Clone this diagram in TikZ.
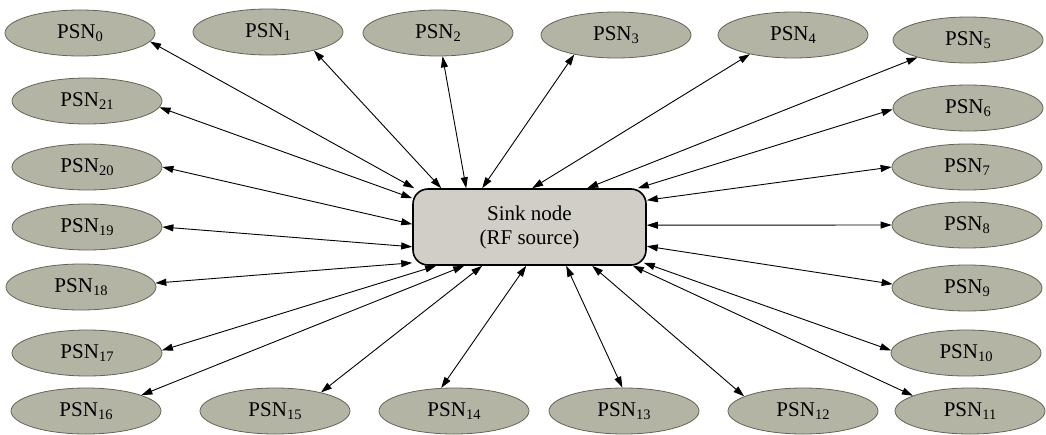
\documentclass[tikz,border=0pt]{standalone}
\usepackage{fontspec}
\setmainfont{Liberation Serif}
\usetikzlibrary{arrows.meta,calc,shapes.geometric}
\definecolor{psnfill}{RGB}{180,180,164}
\definecolor{psnline}{RGB}{100,100,85}
\definecolor{sinkfill}{RGB}{208,206,199}
\newcommand{\psnsub}[1]{\raisebox{-0.3ex}{\fontsize{14.5}{16}\selectfont #1}}
\begin{document}
\begin{tikzpicture}[x=1pt,y=-1pt,
  psn/.style={ellipse,draw=psnline,fill=psnfill,line width=0.8pt,minimum width=150pt,minimum height=46pt,inner sep=0pt,font=\fontsize{21}{25}\selectfont},
  sinkbox/.style={rectangle,rounded corners=15pt,draw=black,line width=1.6pt,fill=sinkfill,minimum width=233pt,minimum height=76pt,align=center,font=\fontsize{21}{24}\selectfont},
  link/.style={{Triangle[length=11pt,width=7pt]}-{Triangle[length=11pt,width=7pt]},line width=0.9pt}]
\useasboundingbox (0,0) rectangle (1046,434);

\node[sinkbox] (sink) at (529.5,227) {Sink node\\(RF source)};

\node[psn] (p0)  at (80,33)  {PSN\psnsub{0}};
\node[psn] (p1)  at (268,32) {PSN\psnsub{1}};
\node[psn] (p2)  at (438,33) {PSN\psnsub{2}};
\node[psn] (p3)  at (616,35) {PSN\psnsub{3}};
\node[psn] (p4)  at (793,35) {PSN\psnsub{4}};
\node[psn] (p5)  at (968,40) {PSN\psnsub{5}};
\node[psn] (p6)  at (968,108) {PSN\psnsub{6}};
\node[psn] (p7)  at (967,167) {PSN\psnsub{7}};
\node[psn] (p8)  at (967,225) {PSN\psnsub{8}};
\node[psn] (p9)  at (967,288) {PSN\psnsub{9}};
\node[psn] (p10) at (966,353) {PSN\psnsub{10}};
\node[psn] (p11) at (970,411) {PSN\psnsub{11}};
\node[psn] (p12) at (803,411) {PSN\psnsub{12}};
\node[psn] (p13) at (624,411) {PSN\psnsub{13}};
\node[psn] (p14) at (454,411) {PSN\psnsub{14}};
\node[psn] (p15) at (275,411) {PSN\psnsub{15}};
\node[psn] (p16) at (86,411)  {PSN\psnsub{16}};
\node[psn] (p17) at (87,353)  {PSN\psnsub{17}};
\node[psn] (p18) at (81,287)  {PSN\psnsub{18}};
\node[psn] (p19) at (87,227)  {PSN\psnsub{19}};
\node[psn] (p20) at (87,167)  {PSN\psnsub{20}};
\node[psn] (p21) at (87,101)  {PSN\psnsub{21}};

\draw[link] (p0.-7.9)   -- ($(sink.north west)+(2,0)$);
\draw[link] (p1.-22)    -- ($(sink.north west)+(29,0)$);
\draw[link] (p2.-79.5)  -- ($(sink.north west)+(54,0)$);
\draw[link] (p3.-155.9) -- ($(sink.north west)+(70,0)$);
\draw[link] (p4.-156.3) -- ($(sink.north west)+(120,0)$);
\draw[link] (p5.-161.9) -- ($(sink.north west)+(175,0)$);
\draw[link] (p6.-179.2) -- ($(sink.north east)+(-9,0)$);
\draw[link] (p7.180)    -- ($(sink.north east)+(0,12)$);
\draw[link] (p8.180)    -- ($(sink.north east)+(0,37)$);
\draw[link] (p9.177.7)  -- ($(sink.north east)+(0,58)$);
\draw[link] (p10.178.5) -- ($(sink.south east)+(-3,-3)$);
\draw[link] (p11.165.3) -- ($(sink.south east)+(-14,0)$);
\draw[link] (p12.166.4) -- ($(sink.south west)+(180,0)$);
\draw[link] (p13.94.6)  -- ($(sink.south west)+(154,0)$);
\draw[link] (p14.119.2) -- ($(sink.south west)+(114,0)$);
\draw[link] (p15.22.9)  -- ($(sink.south west)+(70,0)$);
\draw[link] (p16.16.9)  -- ($(sink.south west)+(52,0)$);
\draw[link] (p17.2.9)   -- ($(sink.south west)+(24,0)$);
\draw[link] (p18.3)     -- ($(sink.south west)+(0,-3)$);
\draw[link] (p19.0.75)  -- ($(sink.south west)+(0,-19)$);
\draw[link] (p20.0)     -- ($(sink.north west)+(0,36)$);
\draw[link] (p21.-5.3)  -- ($(sink.north west)+(0,10)$);
\end{tikzpicture}
\end{document}
